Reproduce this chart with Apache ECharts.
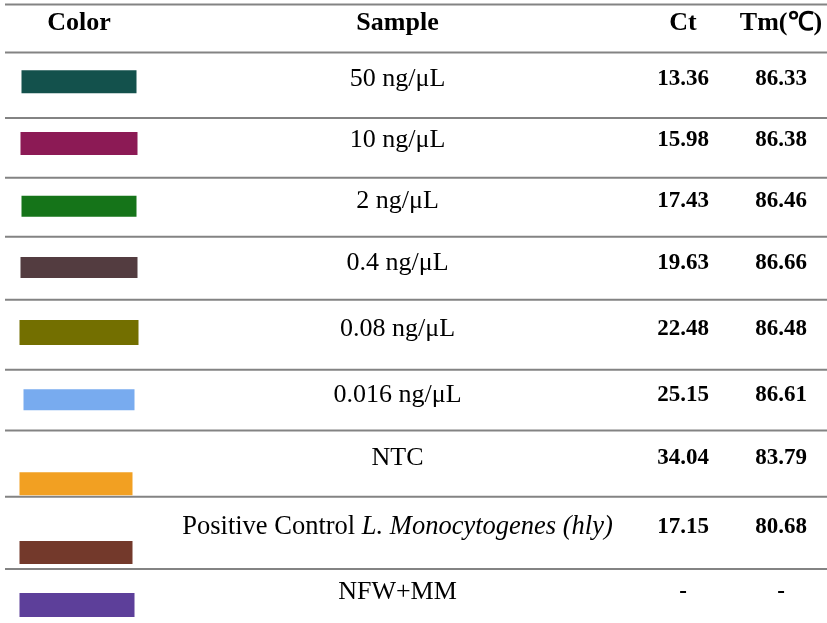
<!DOCTYPE html>
<html>
<head>
<meta charset="utf-8">
<script src="https://cdn.jsdelivr.net/npm/echarts@6/dist/echarts.min.js"></script>
<style>
  html, body { margin: 0; padding: 0; background: #ffffff; }
  #chart { width: 827px; height: 623px; }
</style>
</head>
<body>
<div id="chart"></div>
<script>
// ---- table content ----
const headers = ['Color', 'Sample', 'Ct', 'Tm(℃)'];
const sampleNames = ['50 ng/μL', '10 ng/μL', '2 ng/μL', '0.4 ng/μL', '0.08 ng/μL',
  '0.016 ng/μL', 'NTC', 'Positive Control ', 'NFW+MM'];
const sampleSpecies = ['', '', '', '', '', '', '', 'L. Monocytogenes (hly)', ''];
const swatchColors = ['#13514c', '#8c1a55', '#157419', '#533c40', '#736f00',
  '#78abef', '#f2a022', '#73392b', '#5d3f9a'];
const ctValues = [13.36, 15.98, 17.43, 19.63, 22.48, 25.15, 34.04, 17.15, null];
const tmValues = [86.33, 86.38, 86.46, 86.66, 86.48, 86.61, 83.79, 80.68, null];

// ---- layout (units of the hidden layout axes) ----
const ruleY = [4.5, 52.5, 118, 177.7, 236.7, 299.7, 369.7, 430.5, 496.7, 569];
const textMidY = [23.3, 78.7, 140.5, 201.3, 263, 329.5, 394.7, 457.7, 527, 592.5];
const colX = [79, 397.5, 683, 781];
const swatchDrop = [3, 3, 5, 4.5, 3, 5, 26, 25.5, 12.5];
const swatchH = [23, 23, 21, 21, 25, 21, 23, 23, 24];
const swatchW = [115, 117, 115, 117, 119, 111, 113, 113, 115];
const swatchShift = [0, 0, 0, 0, 0, 0, -3, -3, -2];

const SERIF = "'Liberation Serif', 'Times New Roman', serif";
const fmt = v => (v == null ? '-' : v.toFixed(2));

// one entry per text cell: [column, rowLine, text, kind, italic tail]
const cells = [];
headers.forEach((h, c) => cells.push([c, 0, h, 'head', '']));
sampleNames.forEach((s, r) => {
  cells.push([1, r + 1, s, 'body', sampleSpecies[r]]);
  cells.push([2, r + 1, fmt(ctValues[r]), 'num', '']);
  cells.push([3, r + 1, fmt(tmValues[r]), 'num', '']);
});

const chart = echarts.init(document.getElementById('chart'));
chart.setOption({
  animation: false,
  backgroundColor: '#ffffff',
  grid: { left: 0, right: 0, top: 0, bottom: 0 },
  xAxis: { type: 'value', min: 0, max: 827, show: false },
  yAxis: { type: 'value', min: 0, max: 623, inverse: true, show: false },
  series: [
    {
      // horizontal table rules
      type: 'custom',
      data: ruleY.map(y => [y]),
      renderItem: (params, api) => {
        const y = api.value(0);
        const a = api.coord([5, y]);
        const b = api.coord([827, y]);
        return {
          type: 'line',
          shape: { x1: a[0], y1: a[1], x2: b[0], y2: b[1] },
          style: { stroke: '#838383', lineWidth: 2 }
        };
      }
    },
    {
      // colour swatches
      type: 'custom',
      data: swatchColors.map((c, i) => [i]),
      renderItem: (params, api) => {
        const i = api.value(0);
        const cx = colX[0] + swatchShift[i];
        const cy = textMidY[i + 1] + swatchDrop[i];
        const p0 = api.coord([cx - swatchW[i] / 2, cy - swatchH[i] / 2]);
        const p1 = api.coord([cx + swatchW[i] / 2, cy + swatchH[i] / 2]);
        return {
          type: 'rect',
          shape: { x: p0[0], y: p0[1], width: p1[0] - p0[0], height: p1[1] - p0[1] },
          style: { fill: swatchColors[i] }
        };
      }
    },
    {
      // text cells
      type: 'custom',
      data: cells.map((c, i) => [i]),
      renderItem: (params, api) => {
        const [col, row, text, kind, italic] = cells[api.value(0)];
        const p = api.coord([colX[col], textMidY[row]]);
        let style;
        if (kind === 'head') {
          style = { text, font: 'bold 26px ' + SERIF, fill: '#000' };
        } else if (kind === 'num') {
          style = { text, font: 'bold 23px ' + SERIF, fill: '#000' };
        } else if (italic) {
          style = {
            text: '{n|' + text + '}{i|' + italic + '}',
            rich: {
              n: { font: '26.5px ' + SERIF, fill: '#000' },
              i: { font: 'italic 26.5px ' + SERIF, fill: '#000' }
            }
          };
        } else {
          style = { text, font: '26px ' + SERIF, fill: '#000' };
        }
        style.align = 'center';
        style.verticalAlign = 'middle';
        return { type: 'text', x: p[0], y: p[1], style };
      }
    }
  ]
});
</script>
</body>
</html>
